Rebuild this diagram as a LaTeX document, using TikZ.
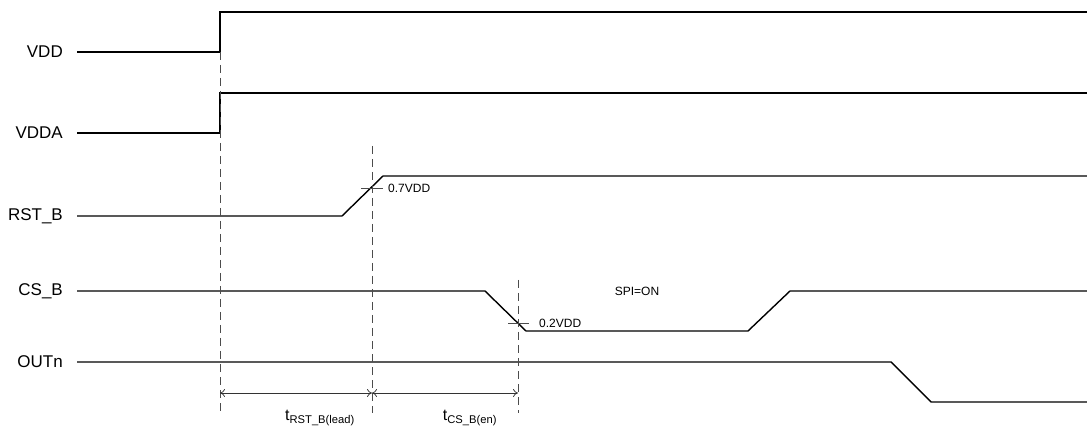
\documentclass[tikz,border=0pt]{standalone}
\usepackage{fontspec}
\setmainfont{Liberation Sans}
\usetikzlibrary{positioning,calc,arrows,arrows.meta}

\begin{document}
\begin{tikzpicture}[x=1pt,y=-1pt]
                        \tikzstyle{every node}=[inner sep=0,draw=none]
                        \tikzstyle{sig}=[anchor=east,font=\fontsize{17}{19}\selectfont]
                        \tikzstyle{note}=[anchor=west,font=\fontsize{12}{14}\selectfont]
                        \tikzstyle{wave}=[line width=1.4]
                        \tikzstyle{guide}=[dash pattern=on 8 off 5,draw=black!70,line width=0.8]
                        \tikzstyle{tick}=[draw=black!70,line width=0.8]
                        \tikzstyle{dim}=[{To[length=5,width=8]}-{To[length=5,width=8]},line width=0.7,draw=black!80]
                        {
                            \useasboundingbox (0,0) rectangle (1087,430);

                            % signal names
                            \node[sig] (vdd) at (63,52) {VDD};
                            \node[sig] (vdda) at (63,133) {VDDA};
                            \node[sig] (rst) at (63,216) {RST\_B};
                            \node[sig] (csb) at (63,291) {CS\_B};
                            \node[sig] (outn) at (63,362) {OUTn};

                            % timing marks
                            \coordinate (p0) at (220,393);
                            \coordinate (p1) at (372,393);
                            \coordinate (p2) at (518,393);

                            % waveforms
                            \draw[wave] (77,52) -- (220,52) -- (220,12) -- (1087,12);
                            \draw[wave] (77,133) -- (220,133) -- (220,93) -- (1087,93);
                            \draw[wave] (77,216) -- (342,216) -- (383,176) -- (1087,176);
                            \draw[wave] (77,291) -- (485,291) -- (526,331) -- (748,331) -- (790,291) -- (1087,291);
                            \draw[wave] (77,362) -- (891,362) -- (931,402) -- (1087,402);

                            % guides
                            \draw[guide] (220,52) -- (220,413);
                            \draw[guide] (372,146) -- (372,413);
                            \draw[guide] (518,280) -- (518,413);

                            % thresholds
                            \draw[tick] (361,188) -- (383,188);
                            \node[note] (th1) at (388,188) {0.7VDD};
                            \draw[tick] (508,323) -- (529,323);
                            \node[note] (th2) at (539,323) {0.2VDD};
                            \node[note,anchor=center] (spi) at (637,291) {SPI=ON};

                            % intervals
                            \draw[dim] (p0) -- (p1);
                            \draw[dim] (p1) -- (p2);
                            \node[font=\fontsize{16}{18}\selectfont] (tlead) at (320,418) {t\textsubscript{RST\_B(lead)}};
                            \node[font=\fontsize{16}{18}\selectfont] (ten) at (470,418) {t\textsubscript{CS\_B(en)}};
                        }
\end{tikzpicture}
\end{document}
